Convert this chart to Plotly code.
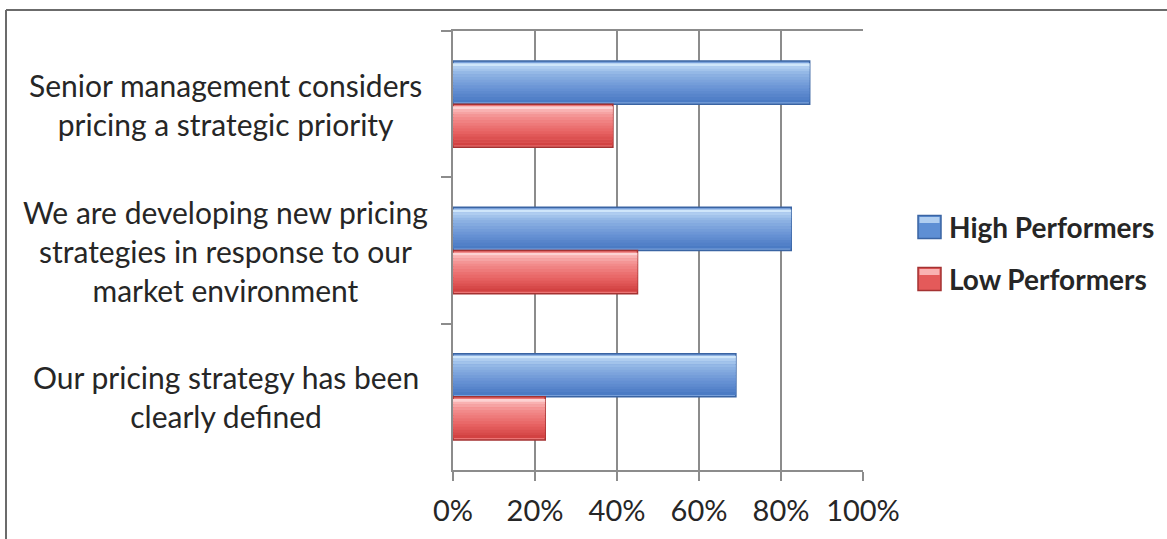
import plotly.graph_objects as go

# Survey statements (top to bottom) and share of respondents agreeing
statements = [
    "Senior management considers<br>pricing a strategic priority",
    "We are developing new pricing<br>strategies in response to our<br>market environment",
    "Our pricing strategy has been<br>clearly defined",
]
high_performers = [0.87, 0.825, 0.69]
low_performers = [0.39, 0.45, 0.225]
series_names = ["High Performers", "Low Performers"]
x_ticks = [0, 0.2, 0.4, 0.6, 0.8, 1.0]
x_tick_labels = ["0%", "20%", "40%", "60%", "80%", "100%"]

W, H = 1167, 539
ML, MR, MT, MB = 453, 304, 31, 69
PW, PH = W - ML - MR, H - MT - MB


def px_x(px):
    return (px - ML) / PW


def px_y(py):
    return (H - MB - py) / PH


FONT = "Lato, 'Open Sans', Arial, sans-serif"
TEXT = "#262626"
GRID = "#8c8c8c"

# vertical colour ramps (top -> bottom) for the glossy bars
styles = [
    dict(edge="#3a64a3", legend="#5e8fd4",
         ramp=[(0.0, (224, 243, 255)), (0.10, (176, 206, 240)), (0.28, (143, 180, 228)),
               (0.65, (104, 146, 212)), (1.0, (72, 120, 194))]),
    dict(edge="#a43232", legend="#e45a5a",
         ramp=[(0.0, (255, 228, 228)), (0.10, (249, 178, 178)), (0.28, (243, 143, 143)),
               (0.65, (232, 100, 100)), (1.0, (208, 62, 62))]),
]


def ramp_colour(ramp, t):
    for (t0, c0), (t1, c1) in zip(ramp[:-1], ramp[1:]):
        if t <= t1:
            f = (t - t0) / (t1 - t0) if t1 > t0 else 0
            return "rgb(%d,%d,%d)" % tuple(round(a + (b - a) * f) for a, b in zip(c0, c1))
    return "rgb(%d,%d,%d)" % ramp[-1][1]


BAR_W = 0.295
offsets = [-BAR_W, 0.0]
N_STRIPS = 14

fig = go.Figure()
for name, vals, st, off in zip(series_names, [high_performers, low_performers], styles, offsets):
    # outline of each bar
    fig.add_trace(go.Bar(
        name=name, y=statements, x=vals, orientation="h",
        width=BAR_W, offset=off,
        marker=dict(color=ramp_colour(st["ramp"], 0.5), line=dict(color=st["edge"], width=1.5)),
        showlegend=False, hoverinfo="skip",
    ))
    # shaded fill, painted in thin horizontal strips
    inner = BAR_W * 0.9
    start = off + BAR_W * 0.05
    step = inner / N_STRIPS
    for k in range(N_STRIPS):
        t = (k + 0.5) / N_STRIPS
        fig.add_trace(go.Bar(
            y=statements, x=vals, orientation="h",
            width=step * 1.08, offset=start + k * step,
            marker=dict(color=ramp_colour(st["ramp"], t), line=dict(width=0)),
            showlegend=False, hoverinfo="skip",
        ))

# category labels, centred under one another
for s in statements:
    fig.add_annotation(
        x=px_x(226), xref="paper", y=s, yref="y",
        text=s, showarrow=False, xanchor="center", yanchor="middle",
        align="center", font=dict(family=FONT, size=30, color=TEXT),
    )

# legend drawn as boxes with bold names
legend_rows = [227, 279]
for name, st, cy in zip(series_names, styles, legend_rows):
    fig.add_shape(
        type="rect", xref="paper", yref="paper",
        x0=px_x(918), x1=px_x(941), y0=px_y(cy + 11.5), y1=px_y(cy - 11.5),
        fillcolor=st["legend"], line=dict(color=st["edge"], width=1.5),
    )
    fig.add_shape(
        type="rect", xref="paper", yref="paper",
        x0=px_x(919.5), x1=px_x(939.5), y0=px_y(cy - 4), y1=px_y(cy - 10),
        fillcolor=ramp_colour(st["ramp"], 0.1), line=dict(width=0),
    )
    fig.add_annotation(
        x=px_x(947), xref="paper", y=px_y(cy), yref="paper",
        text="<b>%s</b>" % name, showarrow=False, xanchor="left", yanchor="middle",
        font=dict(family=FONT, size=28, color=TEXT),
    )

# outer frame (top and left edges)
fig.add_shape(type="line", xref="paper", yref="paper",
              x0=px_x(6), x1=px_x(W + 5), y0=px_y(10), y1=px_y(10),
              line=dict(color="#6b6b6b", width=2))
fig.add_shape(type="line", xref="paper", yref="paper",
              x0=px_x(6), x1=px_x(6), y0=px_y(10), y1=px_y(H + 5),
              line=dict(color="#6b6b6b", width=2))

fig.update_layout(
    width=W, height=H,
    margin=dict(l=ML, r=MR, t=MT, b=MB, pad=0),
    barmode="overlay",
    paper_bgcolor="white", plot_bgcolor="white",
    font=dict(family=FONT, size=29, color=TEXT),
    showlegend=False,
    xaxis=dict(
        range=[0, 1], tickvals=x_ticks, ticktext=x_tick_labels,
        showgrid=True, gridcolor=GRID, gridwidth=1.5,
        showline=True, linecolor=GRID, linewidth=1.5, mirror=True,
        ticks="outside", ticklen=9, tickcolor=GRID, tickwidth=1.5,
        ticklabelstandoff=5,
        zeroline=False, tickfont=dict(family=FONT, size=29, color=TEXT),
        fixedrange=True,
    ),
    yaxis=dict(
        categoryorder="array", categoryarray=statements,
        autorange="reversed", showticklabels=False,
        tickson="boundaries", ticks="outside", ticklen=10,
        tickcolor=GRID, tickwidth=1.5,
        showline=True, linecolor=GRID, linewidth=1.5,
        showgrid=False, zeroline=False, fixedrange=True,
    ),
)

fig.write_html("out.html")
